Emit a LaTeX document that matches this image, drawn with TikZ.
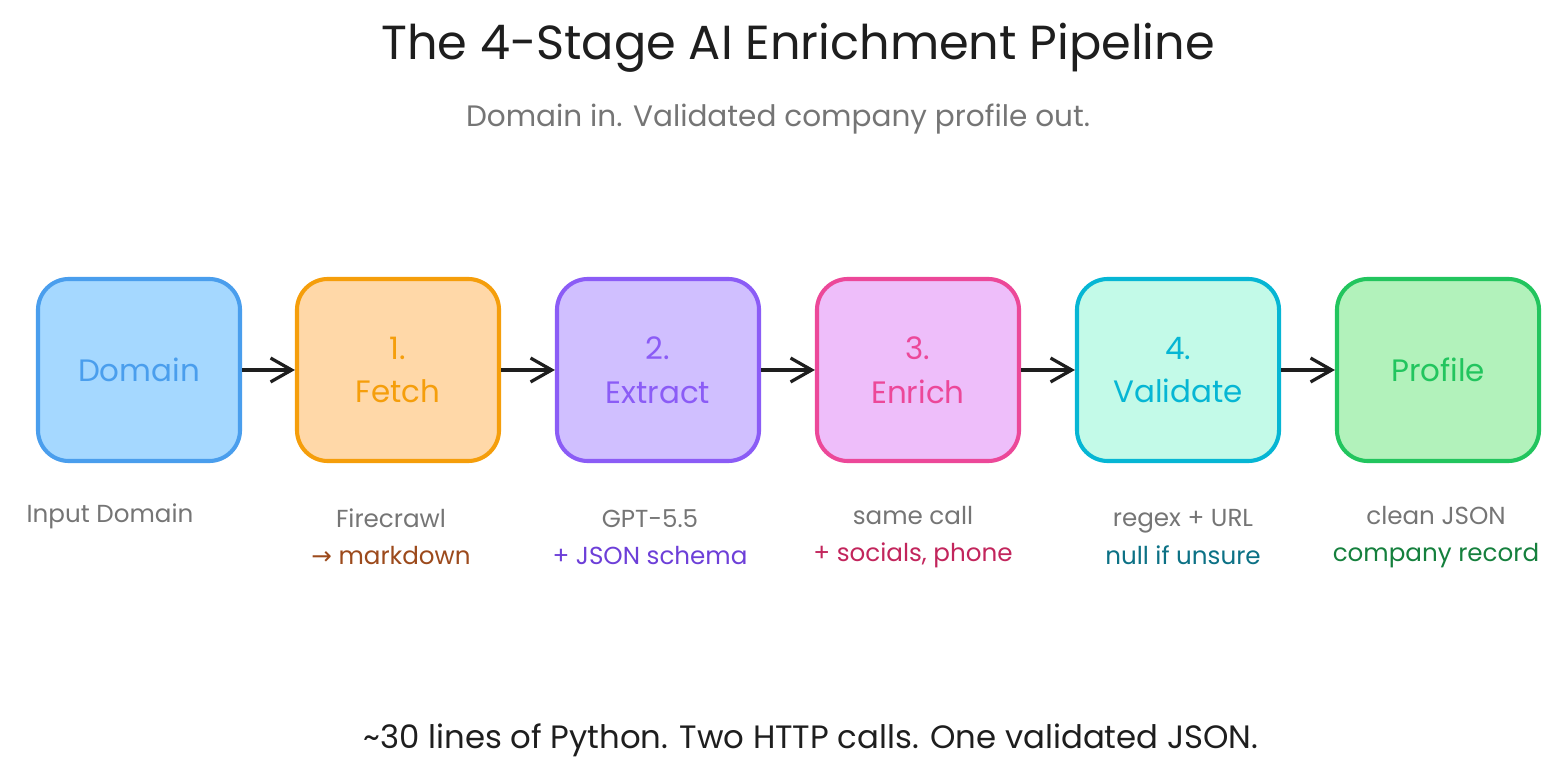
\documentclass[tikz,border=0pt]{standalone}
\usepackage{fontspec}
\setmainfont{Poppins}
\newfontfamily\symfont{DejaVu Sans}
\usetikzlibrary{arrows.meta}

\definecolor{ink}{HTML}{1E1E1E}
\definecolor{greytext}{HTML}{757575}
\definecolor{domainline}{HTML}{4A9EED}
\definecolor{domainfill}{HTML}{A5D8FF}
\definecolor{fetchline}{HTML}{F59E0B}
\definecolor{fetchfill}{HTML}{FFD8A8}
\definecolor{extractline}{HTML}{8B5CF6}
\definecolor{extractfill}{HTML}{D0BFFF}
\definecolor{enrichline}{HTML}{EC4899}
\definecolor{enrichfill}{HTML}{EEBEFA}
\definecolor{validline}{HTML}{06B6D4}
\definecolor{validfill}{HTML}{C3FAE8}
\definecolor{profileline}{HTML}{22C55E}
\definecolor{profilefill}{HTML}{B2F2BB}
\definecolor{mdtext}{HTML}{9C4A1C}
\definecolor{schematext}{HTML}{6D3FD8}
\definecolor{socialtext}{HTML}{C2255C}
\definecolor{nulltext}{HTML}{0C7185}
\definecolor{recordtext}{HTML}{15803D}

\begin{document}
\begin{tikzpicture}[x=0.025cm, y=-0.025cm,
    stage/.style={draw, line width=2.9pt, rounded corners=22pt, align=center,
        minimum width=5.05cm, minimum height=4.55cm,
        font=\fontsize{22}{31}\selectfont},
    note/.style={align=center, font=\fontsize{17.5}{26.5}\selectfont, text=greytext},
    flow/.style={-{Straight Barb[length=15pt, width=17pt, line width=2.3pt]}, line width=2.3pt, ink}]

    \useasboundingbox (0, 0) rectangle (1560, 780);

    % headings
    \node [font=\fontsize{34}{40}\selectfont, text=ink] (title) at (798, 48) {The 4-Stage AI Enrichment Pipeline};
    \node [font=\fontsize{21}{25}\selectfont, text=greytext] (subtitle) at (778, 119) {Domain in. Validated company profile out.};

    % stages
    \node [stage, fill=domainfill, draw=domainline, text=domainline] (dom) at (139, 370) {Domain};
    \node [stage, fill=fetchfill, draw=fetchline, text=fetchline] (fetch) at (398, 370) {1.\\Fetch};
    \node [stage, fill=extractfill, draw=extractline, text=extractline] (extract) at (658, 370) {2.\\Extract};
    \node [stage, fill=enrichfill, draw=enrichline, text=enrichline] (enrich) at (918, 370) {3.\\Enrich};
    \node [stage, fill=validfill, draw=validline, text=validline] (validate) at (1178, 370) {4.\\Validate};
    \node [stage, fill=profilefill, draw=profileline, text=profileline] (profile) at (1438, 370) {Profile};

    \draw [flow] (dom) -- (fetch);
    \draw [flow] (fetch) -- (extract);
    \draw [flow] (extract) -- (enrich);
    \draw [flow] (enrich) -- (validate);
    \draw [flow] (validate) -- (profile);

    % notes under the stages
    \node [note] (domnote) at (110, 537) {Input Domain\\\strut};
    \node [note] (fetchnote) at (391, 537) {Firecrawl\\\textcolor{mdtext}{{\symfont →} markdown}};
    \node [note] (extractnote) at (650, 537) {GPT-5.5\\\textcolor{schematext}{+ JSON schema}};
    \node [note] (enrichnote) at (913, 537) {same call\\\textcolor{socialtext}{+ socials, phone}};
    \node [note] (validnote) at (1183, 537) {regex + URL\\\textcolor{nulltext}{null if unsure}};
    \node [note] (profilenote) at (1436, 537) {clean JSON\\\textcolor{recordtext}{company record}};

    % footer
    \node [font=\fontsize{23}{27}\selectfont, text=ink] (footer) at (811, 740) {\textasciitilde30 lines of Python. Two HTTP calls. One validated JSON.};
\end{tikzpicture}
\end{document}
